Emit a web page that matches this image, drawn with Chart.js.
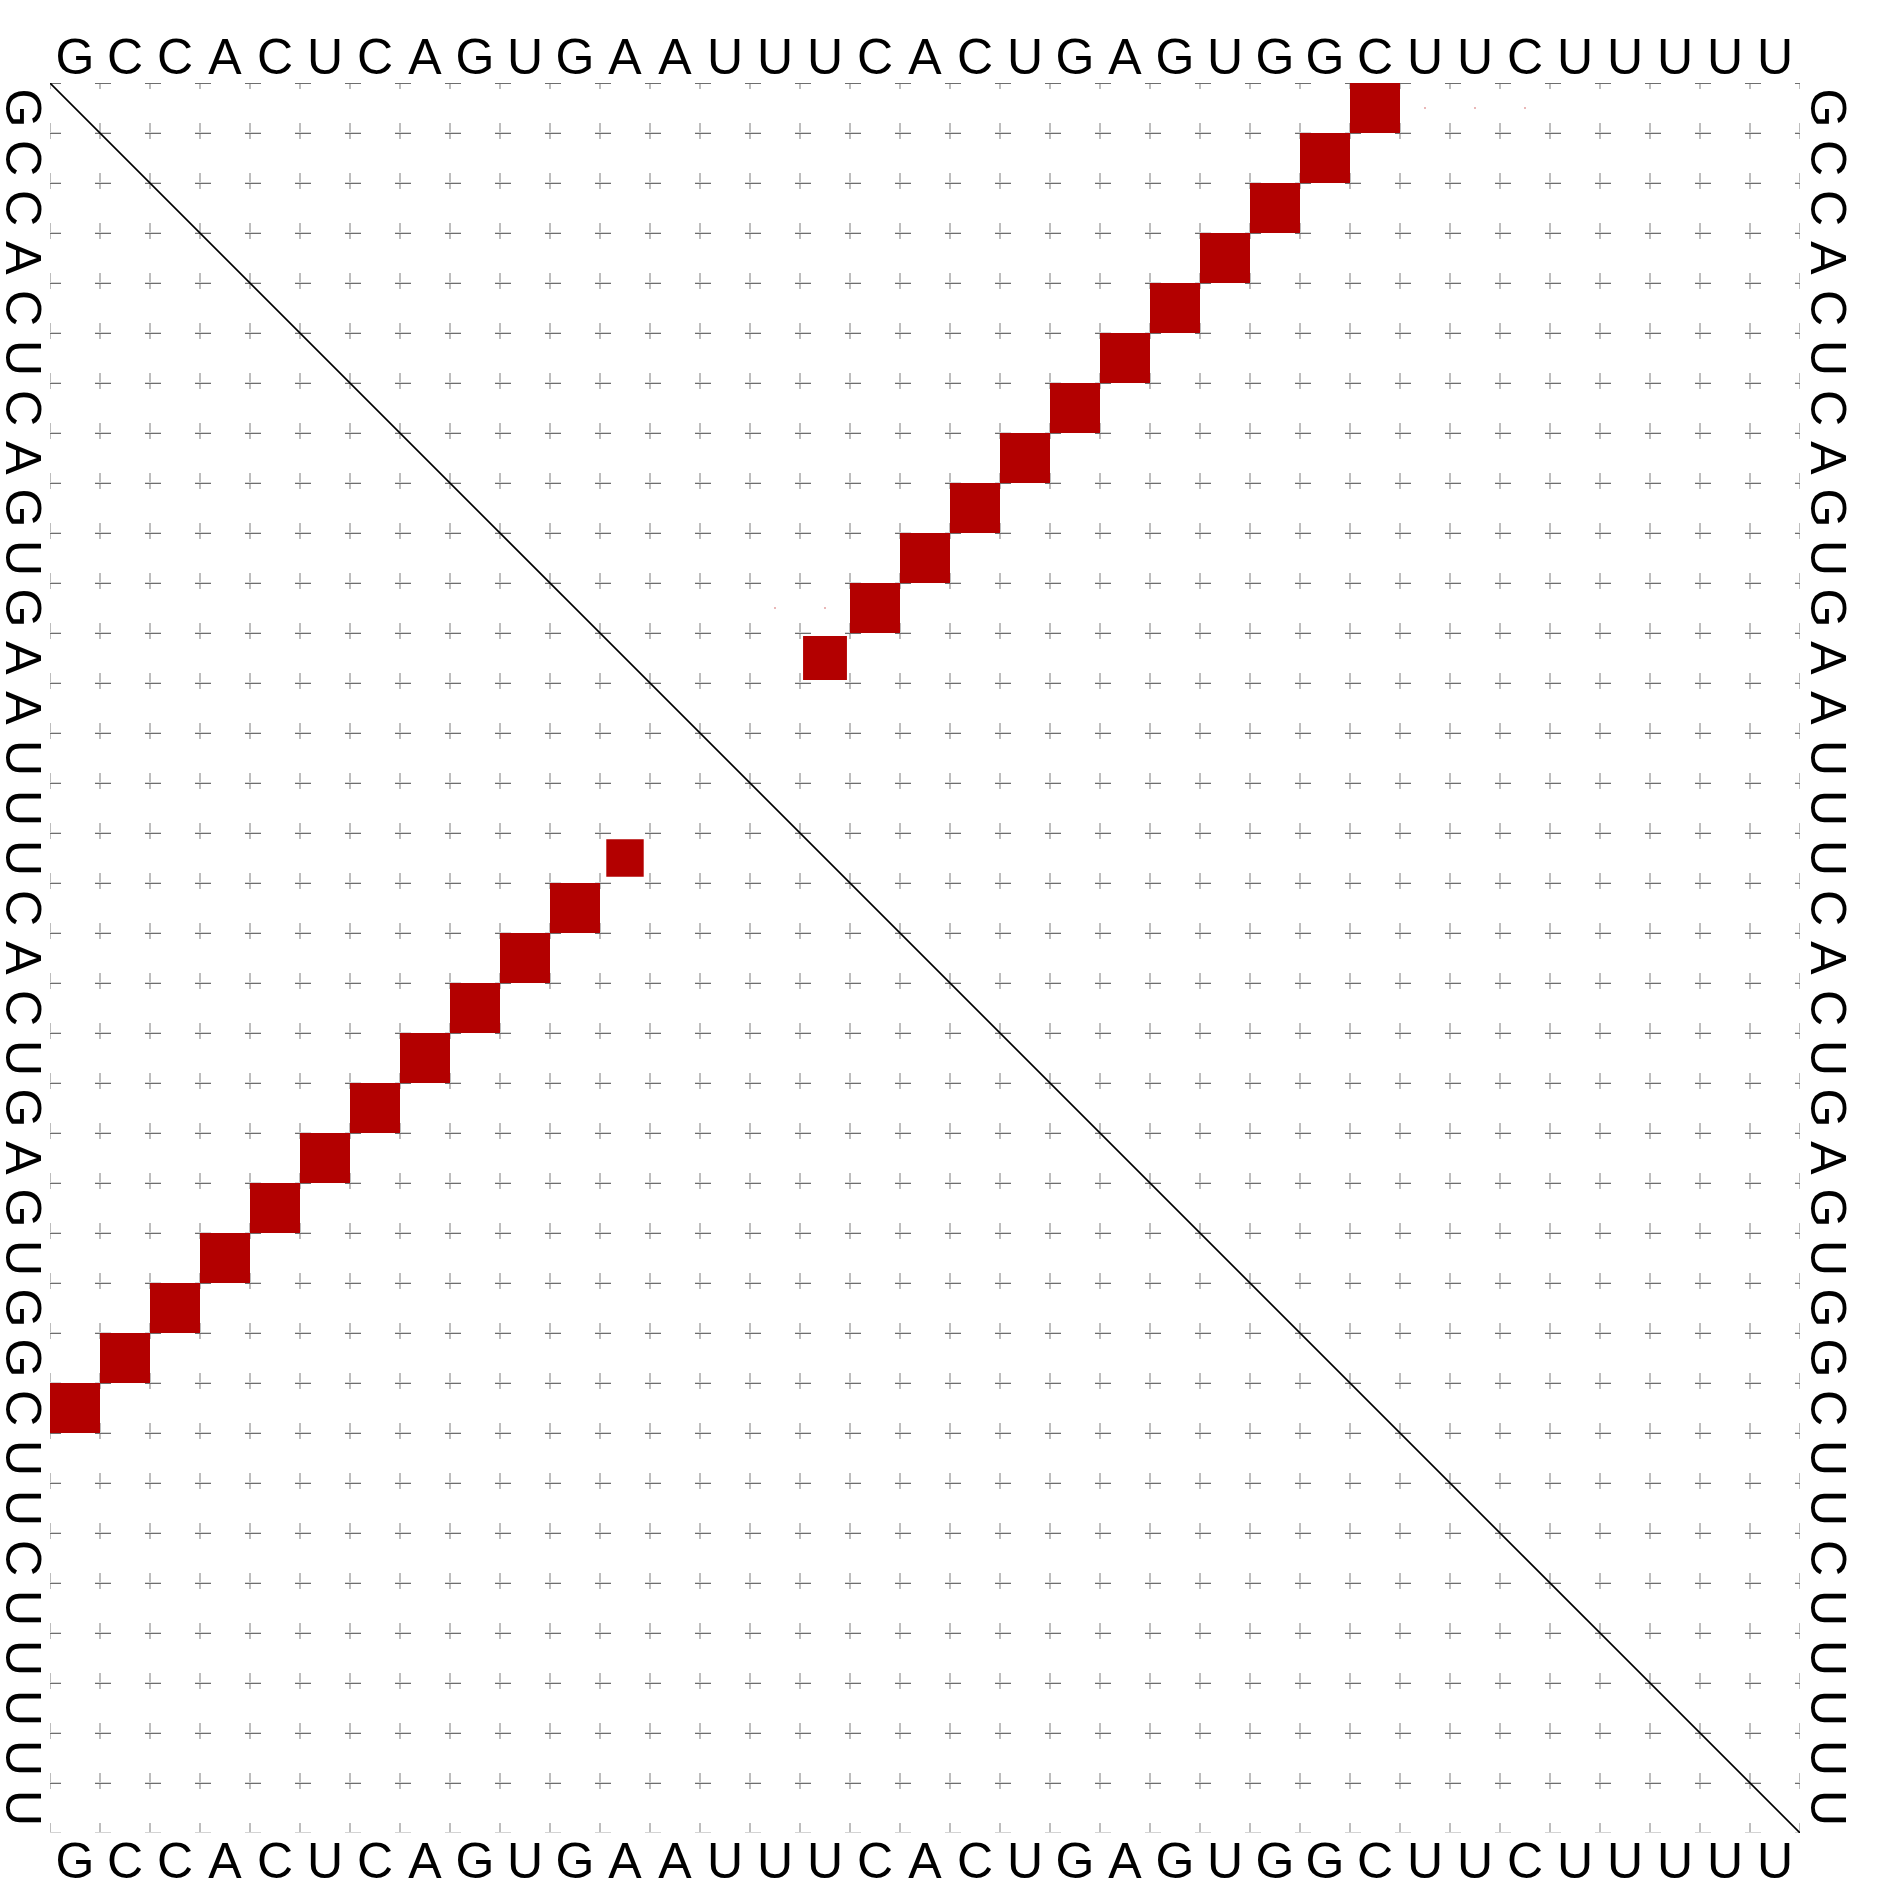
<!DOCTYPE html>
<html>
<head>
<meta charset="utf-8">
<script src="https://cdn.jsdelivr.net/npm/chart.js@4.4.1/dist/chart.umd.min.js"></script>
<style>
  html, body { margin: 0; padding: 0; background: #fff; }
  #wrap { width: 1883px; height: 1879px; }
</style>
</head>
<body>
<div id="wrap"><canvas id="dotplot"></canvas></div>
<script>
const sequence = 'GCCACUCAGUGAAUUUCACUGAGUGGCUUCUUUUU'.split('');

// upper triangle: pair (i, j), 1-based, with probability p
const upperI = [1, 2, 3, 4, 5, 6, 7, 8, 9, 10, 11, 12, 1, 1, 1, 11, 11];
const upperJ = [27, 26, 25, 24, 23, 22, 21, 20, 19, 18, 17, 16, 28, 29, 30, 15, 16];
const upperP = [1, 1, 1, 1, 1, 1, 1, 1, 1, 1, 1, 0.77, 0.0005, 0.0005, 0.0005, 0.0005, 0.0005];

// lower triangle
const lowerI = [1, 2, 3, 4, 5, 6, 7, 8, 9, 10, 11, 12];
const lowerJ = [27, 26, 25, 24, 23, 22, 21, 20, 19, 18, 17, 16];
const lowerP = [1, 1, 1, 1, 1, 1, 1, 1, 1, 1, 1, 0.56];

const n = sequence.length;
const letterFont = { family: '"Liberation Sans", Arial, sans-serif', size: 50 };

const crossMark = document.createElement('canvas');
crossMark.width = 22;
crossMark.height = 22;
(() => {
  const g = crossMark.getContext('2d');
  g.fillStyle = '#bdbdbd';
  g.fillRect(10, 1, 2, 16);
  g.fillStyle = '#d4d4d4';
  g.fillRect(6, 10, 16, 1);
  g.fillStyle = '#6e6e6e';
  g.fillRect(6, 11, 16, 1);
})();

const gridPoints = [];
for (let r = 0; r <= n; r++) {
  for (let c = 0; c <= n; c++) {
    gridPoints.push({ x: c, y: r });
  }
}

const pairs = [];
upperI.forEach((i, k) => pairs.push({ x: upperJ[k] - 0.5, y: i - 0.5, p: upperP[k] }));
lowerI.forEach((i, k) => pairs.push({ x: i - 0.5, y: lowerJ[k] - 0.5, p: lowerP[k] }));

const seqTicks = (scale) => {
  scale.ticks = sequence.map((s, i) => ({ value: i + 0.5 }));
};
const letterAt = (value) => sequence[Math.floor(value)];

const squareRadius = (ctx) => {
  const xs = ctx.chart.scales.x;
  const cell = xs.getPixelForValue(1) - xs.getPixelForValue(0);
  const p = ctx.raw ? ctx.raw.p : 0;
  return Math.sqrt(p) * cell / Math.SQRT2;
};

const axisX = (position, height, padding) => ({
  type: 'linear',
  position,
  min: 0,
  max: n,
  grid: { display: false },
  border: { display: false },
  afterBuildTicks: seqTicks,
  afterFit: (s) => { s.height = height; },
  ticks: { autoSkip: false, maxRotation: 0, minRotation: 0, padding, font: letterFont, color: '#000', callback: letterAt }
});

const axisY = (position, width, padding) => ({
  type: 'linear',
  position,
  min: 0,
  max: n,
  reverse: true,
  grid: { display: false },
  border: { display: false },
  afterBuildTicks: seqTicks,
  afterFit: (s) => { s.width = width; },
  ticks: { autoSkip: false, minRotation: -90, maxRotation: -90, crossAlign: 'center', padding, font: letterFont, color: '#000', callback: letterAt }
});

new Chart(document.getElementById('dotplot'), {
  type: 'scatter',
  data: {
    datasets: [
      {
        data: [{ x: 0, y: 0 }, { x: n, y: n }],
        type: 'line',
        showLine: true,
        borderColor: '#000',
        borderWidth: 1.6,
        pointRadius: 0,
        order: 1,
        clip: 0
      },
      {
        data: pairs,
        pointStyle: 'rect',
        pointRadius: squareRadius,
        backgroundColor: '#b30000',
        borderWidth: 0,
        order: 2,
        clip: 0
      },
      {
        data: gridPoints,
        pointStyle: crossMark,
        pointRadius: 11,
        order: 3,
        clip: 0
      }
    ]
  },
  options: {
    responsive: true,
    maintainAspectRatio: false,
    animation: false,
    events: [],
    layout: { padding: 0 },
    plugins: {
      legend: { display: false },
      tooltip: { enabled: false }
    },
    scales: {
      x: axisX('top', 83, -15),
      x2: axisX('bottom', 46, -7),
      y: axisY('left', 50, 3),
      y2: axisY('right', 83, -3)
    }
  }
});
</script>
</body>
</html>
